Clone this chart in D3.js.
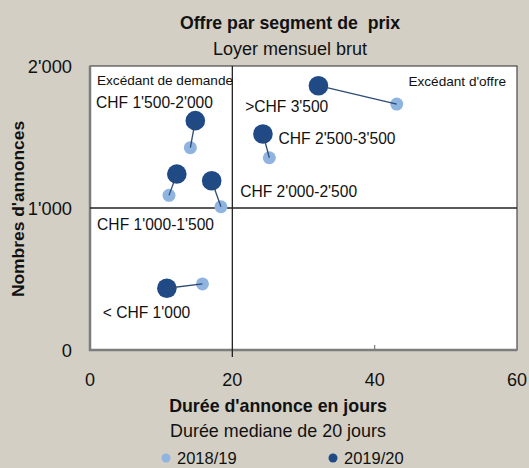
<!DOCTYPE html>
<html>
<head>
<meta charset="utf-8">
<script src="https://cdn.jsdelivr.net/npm/d3@7"></script>
<style>
  body { margin: 0; background: #d3cfc4; }
  svg { display: block; font-family: "Liberation Sans", Arial, sans-serif; }
  text { fill: #111; }
</style>
</head>
<body>
<script>
const width = 529;
const height = 468;

// segments and values
const segments = [">CHF 3'500", "CHF 2'500-3'500", "CHF 2'000-2'500", "CHF 1'500-2'000", "CHF 1'000-1'500", "< CHF 1'000"];
const days1819 = [43.1, 25.2, 18.4, 14.1, 11.1, 15.8];
const count1819 = [1732, 1354, 1009, 1425, 1089, 465];
const days1920 = [32.1, 24.3, 17.1, 14.8, 12.2, 10.8];
const count1920 = [1861, 1521, 1192, 1615, 1239, 435];

// where the segment labels sit, in chart units
const labelDays = [21.8, 26.5, 21.1, 0.85, 1.0, 1.8];
const labelCount = [1720, 1490, 1120, 1750, 890, 265];

const xTicks = [0, 20, 40, 60];
const yTicks = [0, 1000, 2000];
const medianDays = 20;
const medianCount = 1000;

const light = "#8fb4e0";
const dark = "#1f4a85";

const svg = d3.select("body")
    .append("svg")
    .attr("width", width)
    .attr("height", height);

let x = d3.scaleLinear().domain([0, 60]).range([90, 517]);
let y = d3.scaleLinear().domain([0, 2000]).range([350, 66]);

const fmt = d => d3.format(",")(d).replace(",", "'");

// titles
svg.append("text")
    .attr("x", 290).attr("y", 29)
    .attr("text-anchor", "middle")
    .style("font-size", "17.7px").style("font-weight", "bold")
    .style("white-space", "pre")
    .text("Offre par segment de  prix");

svg.append("text")
    .attr("x", 290).attr("y", 55)
    .attr("text-anchor", "middle")
    .style("font-size", "18px")
    .text("Loyer mensuel brut");

// plot frame
svg.append("rect")
    .attr("x", x(0)).attr("y", y(2000))
    .attr("width", x(60) - x(0)).attr("height", y(0) - y(2000))
    .attr("fill", "white")
    .attr("stroke", "#4a4a4a")
    .attr("stroke-width", 1.2);

svg.append("path")
    .attr("d", `M${x(0)},${y(2000)}V${y(0)}H${x(60)}`)
    .attr("fill", "none")
    .attr("stroke", "#7d7d7d")
    .attr("stroke-width", 2.5);

// median lines
svg.append("line")
    .attr("x1", x(medianDays)).attr("x2", x(medianDays))
    .attr("y1", y(2000)).attr("y2", y(0) + 7)
    .attr("stroke", "#222").attr("stroke-width", 1.3);

svg.append("line")
    .attr("x1", x(0)).attr("x2", x(60))
    .attr("y1", y(medianCount)).attr("y2", y(medianCount))
    .attr("stroke", "#222").attr("stroke-width", 1.3);

// small tick at 40
svg.append("line")
    .attr("x1", x(40)).attr("x2", x(40))
    .attr("y1", y(0)).attr("y2", y(0) - 5)
    .attr("stroke", "#7d7d7d").attr("stroke-width", 1.2);

// tick labels
svg.selectAll(".xtick")
    .data(xTicks)
    .enter()
    .append("text")
    .attr("class", "xtick")
    .attr("x", d => x(d))
    .attr("y", 386)
    .attr("text-anchor", "middle")
    .style("font-size", "18px")
    .text(fmt);

svg.selectAll(".ytick")
    .data(yTicks)
    .enter()
    .append("text")
    .attr("class", "ytick")
    .attr("x", 72)
    .attr("y", d => y(d) + 7)
    .attr("text-anchor", "end")
    .style("font-size", "18.3px")
    .text(fmt);

// axis titles
svg.append("text")
    .attr("transform", "translate(24,209) rotate(-90)")
    .attr("text-anchor", "middle")
    .style("font-size", "17.4px").style("font-weight", "bold")
    .text("Nombres d'annonces");

svg.append("text")
    .attr("x", 278).attr("y", 412)
    .attr("text-anchor", "middle")
    .style("font-size", "17.8px").style("font-weight", "bold")
    .text("Durée d'annonce en jours");

svg.append("text")
    .attr("x", 278).attr("y", 437)
    .attr("text-anchor", "middle")
    .style("font-size", "17.9px")
    .text("Durée mediane de 20 jours");

// corner notes
svg.append("text")
    .attr("x", 97).attr("y", 85)
    .style("font-size", "13.6px")
    .text("Excédant de demande");

svg.append("text")
    .attr("x", 506).attr("y", 86)
    .attr("text-anchor", "end")
    .style("font-size", "13.6px")
    .text("Excédant d'offre");

// points
const pairs = segments.map((s, i) => ({
    name: s,
    x0: days1819[i], y0: count1819[i],
    x1: days1920[i], y1: count1920[i],
    lx: labelDays[i], ly: labelCount[i]
}));

svg.selectAll(".old")
    .data(pairs)
    .enter()
    .append("circle")
    .attr("class", "old")
    .attr("cx", d => x(d.x0))
    .attr("cy", d => y(d.y0))
    .attr("r", 6.5)
    .attr("fill", light);

svg.selectAll(".new")
    .data(pairs)
    .enter()
    .append("circle")
    .attr("class", "new")
    .attr("cx", d => x(d.x1))
    .attr("cy", d => y(d.y1))
    .attr("r", 9.8)
    .attr("fill", dark);

svg.selectAll(".link")
    .data(pairs)
    .enter()
    .append("line")
    .attr("class", "link")
    .attr("x1", d => x(d.x0)).attr("y1", d => y(d.y0))
    .attr("x2", d => x(d.x1)).attr("y2", d => y(d.y1))
    .attr("stroke", "#2c4b73")
    .attr("stroke-width", 1.3);

svg.selectAll(".seglabel")
    .data(pairs)
    .enter()
    .append("text")
    .attr("class", "seglabel")
    .attr("x", d => x(d.lx))
    .attr("y", d => y(d.ly) + 6)
    .style("font-size", "15.6px")
    .text(d => d.name);

// legend
const legend = [["2018/19", light, 166], ["2019/20", dark, 333]];

let lg = svg.selectAll(".legend")
    .data(legend)
    .enter()
    .append("g")
    .attr("class", "legend");

lg.append("circle")
    .attr("cx", d => d[2]).attr("cy", 458)
    .attr("r", 4.5)
    .attr("fill", d => d[1]);

lg.append("text")
    .attr("x", d => d[2] + 11).attr("y", 464)
    .style("font-size", "16.5px")
    .text(d => d[0]);
</script>
</body>
</html>
